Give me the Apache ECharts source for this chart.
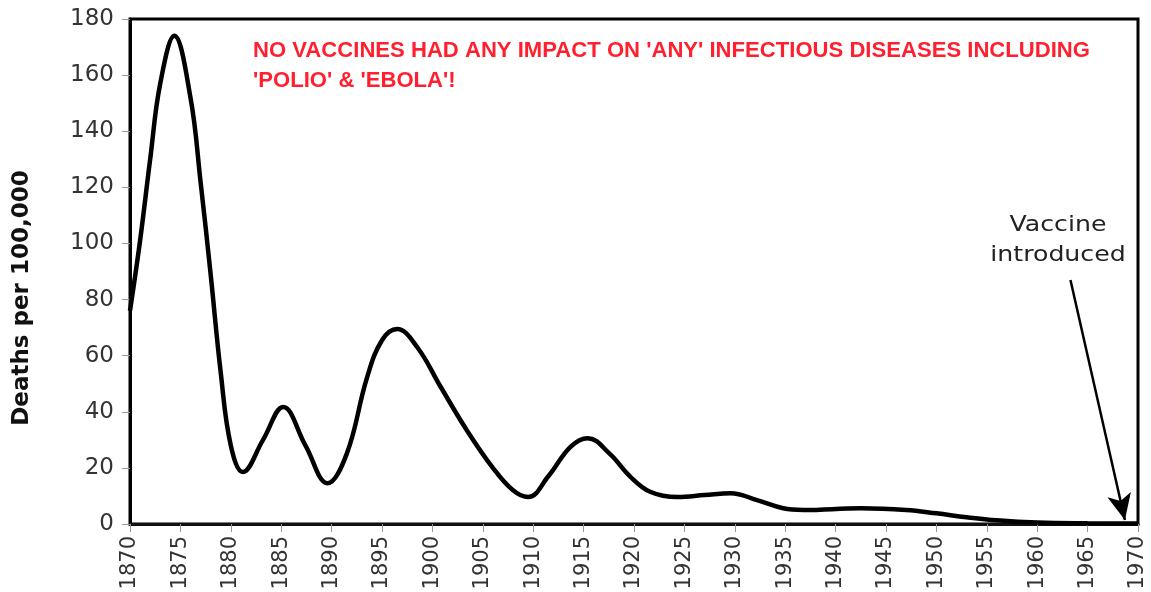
<!DOCTYPE html>
<html><head><meta charset="utf-8">
<script src="https://cdn.jsdelivr.net/npm/echarts@6/dist/echarts.min.js"></script>
<style>html,body{margin:0;padding:0;background:#fff}#c{width:1151px;height:592px}</style>
</head><body><div id="c"></div>
<script>
var years  = [1870,1871,1872,1873,1874.4,1876,1877,1878,1879,1880,1881.2,1883.2,1885.2,1887.4,1889.6,1891.5,1893.5,1895,1896.5,1898.5,1900.8,1903.4,1906,1908,1909.5,1911.5,1913.7,1915.4,1917.6,1919.6,1921.6,1924.3,1927,1929.6,1932.2,1934.8,1936.8,1942.5,1947,1950,1953,1956,1960,1965,1970];
var deaths = [76,  101, 130, 157, 174,   152, 122, 89,  54,  28,  18.5,  30,    41.7,  28,    14.5,  25,    52,    65.5,69.5,  63,    49,    33.5,  20,  12,  9.6,   17,    27.5,  30.6,  25,    17,    11.5,  9.6,   10.3,11,    8.5,   5.6,   5,     5.6,   5,   3.8, 2.4, 1.3, 0.5, 0.25,0.2];
var arrowFrom = [1963.3, 87];
var arrowTo = [1968.7, 1.4];
var headline = ["NO VACCINES HAD ANY IMPACT ON 'ANY' INFECTIOUS DISEASES INCLUDING", "'POLIO' & 'EBOLA'!"];
var note = ["Vaccine", "introduced"];
var yTitle = "Deaths per 100,000";

var headFont = 'bold 22px "Liberation Sans"';
var cv = document.createElement('canvas').getContext('2d');
cv.font = headFont;
var headScale = 837 / cv.measureText(headline[0]).width;

var chart = echarts.init(document.getElementById('c'));
chart.setOption({
  animation: false,
  grid: {left:130, right:13, top:19, bottom:68, containLabel:false, outerBoundsMode:'none', show:true, borderColor:'#000', borderWidth:3, backgroundColor:'#fff'},
  xAxis: {type:'value', min:1870, max:1970, interval:5,
    axisLine:{show:true, lineStyle:{color:'#111', width:3}},
    axisTick:{show:true, length:8, lineStyle:{color:'#999', width:1}},
    splitLine:{show:false},
    axisLabel:{rotate:90, fontFamily:'DejaVu Sans', fontSize:21, color:'#333', margin:12, formatter:function(v){return String(v);}}
  },
  yAxis: {type:'value', min:0, max:180, interval:20,
    axisLine:{show:true, lineStyle:{color:'#000', width:3}},
    axisTick:{show:true, length:8, lineStyle:{color:'#999', width:1}},
    splitLine:{show:false},
    axisLabel:{fontFamily:'DejaVu Sans', fontSize:23, color:'#333', margin:16}
  },
  series: [{
    type:'line', smooth:0.4, symbol:'none',
    data: years.map(function(y,i){return [y, deaths[i]];}),
    lineStyle:{color:'#000', width:4.5},
    markLine:{silent:true, symbol:['none','arrow'], symbolSize:[18,26],
      lineStyle:{color:'#000', width:2.5, type:'solid'}, label:{show:false},
      data:[[{coord:arrowFrom},{coord:arrowTo}]]}
  }],
  graphic: [
    {type:'text', x:253, y:36, scaleX:headScale, style:{text:headline.join('\n'), fill:'#ff1f2e', font:headFont, lineHeight:30}},
    {type:'text', x:1058, y:241, scaleX:1.2, style:{text:note.join('\n'), fill:'#222', font:'21px "DejaVu Sans"', lineHeight:30, textAlign:'center', textVerticalAlign:'middle'}},
    {type:'text', x:22, y:298, rotation:Math.PI/2, style:{text:yTitle, fill:'#111', font:'bold 23px "DejaVu Sans"', textAlign:'center', textVerticalAlign:'middle'}}
  ]
});
</script></body></html>
